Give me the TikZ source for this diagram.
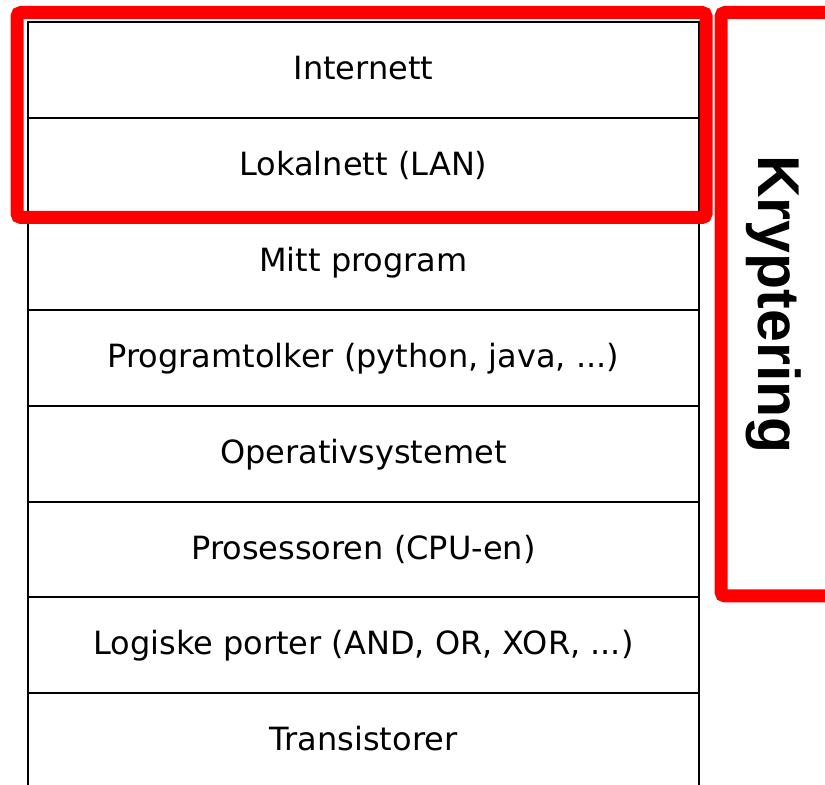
\documentclass[tikz,border=0pt]{standalone}
\usepackage{fontspec}
\setmainfont{DejaVu Sans}
\newfontfamily\boldsans{Liberation Sans}
\usetikzlibrary{positioning}

\begin{document}
\begin{tikzpicture}[x=0.5pt, y=-0.5pt,
	layer/.style={draw, line width=1pt, outer sep=0pt,
		minimum width=335.5pt, minimum height=47.95pt,
		text height=11.6pt, text depth=2pt,
		font=\fontsize{16}{19}\selectfont},
	redframe/.style={draw=red, line width=6.5pt, rounded corners=2pt},
	node distance=0pt]
	
	\useasboundingbox (0,0) rectangle (825,785);
	\clip (0,0) rectangle (825,785);
	
	% Lagene, ovenfra og ned
	\node[layer] (internett) at (363.5,70) {Internett};
	\node[layer, below=of internett] (lan) {Lokalnett (LAN)};
	\node[layer, below=of lan] (program) {Mitt program};
	\node[layer, below=of program] (tolker) {Programtolker (python, java, ...)};
	\node[layer, below=of tolker] (os) {Operativsystemet};
	\node[layer, below=of os] (cpu) {Prosessoren (CPU-en)};
	\node[layer, below=of cpu] (porter) {Logiske porter (AND, OR, XOR, ...)};
	\node[layer, below=of porter] (transistor) {Transistorer};
	
	% --- Røde rammer ---
	\draw[redframe] (17,12.5) rectangle (706,217.5);
	\draw[redframe] (850,12.5) -- (721,12.5) -- (721,596) -- (850,596);
	
	\node[rotate=-90, anchor=base, font=\boldsans\bfseries\fontsize{29.5}{34}\selectfont]
		(kryptering) at (758,304.5) {Kryptering};
\end{tikzpicture}
\end{document}
